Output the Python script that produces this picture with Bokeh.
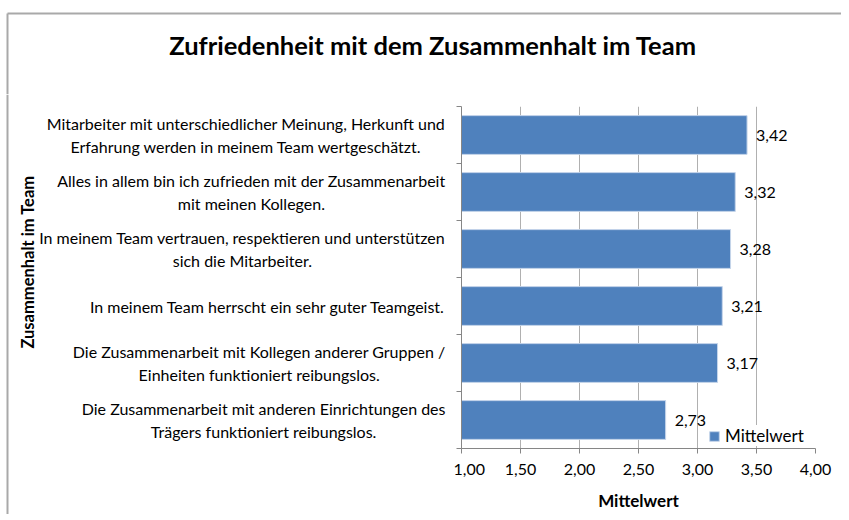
from bokeh.plotting import figure
from bokeh.layouts import column, row
from bokeh.models import FixedTicker, Legend, LegendItem, ColumnDataSource, Range1d, Plot
from bokeh.embed import file_html
from bokeh.resources import INLINE
from bokeh.core.properties import value

# ---- data ----
categories = [
    "Mitarbeiter mit unterschiedlicher Meinung, Herkunft und\nErfahrung werden in meinem Team wertgeschätzt.",
    "Alles in allem bin ich zufrieden mit der Zusammenarbeit\nmit meinen Kollegen.",
    "In meinem Team vertrauen, respektieren und unterstützen\nsich die Mitarbeiter.",
    "In meinem Team herrscht ein sehr guter Teamgeist.",
    "Die Zusammenarbeit mit Kollegen anderer Gruppen /\nEinheiten funktioniert reibungslos.",
    "Die Zusammenarbeit mit anderen Einrichtungen des\nTrägers funktioniert reibungslos.",
]
values = [3.42, 3.32, 3.28, 3.21, 3.17, 2.73]
x_ticks = [1.0, 1.5, 2.0, 2.5, 3.0, 3.5, 4.0]
title_text = "Zufriedenheit mit dem Zusammenhalt im Team"
x_title = "Mittelwert"
y_title = "Zusammenhalt im Team"
series_name = "Mittelwert"

FONT = "Lato"
TXT = "black"
AXIS = "#868686"
GRID = "#b0b0b0"
BORDER = "#a9a9a9"
n = len(categories)
ypos = [n - 1 - i + 0.5 for i in range(n)]
labels = [f"{v:.2f}".replace(".", ",") for v in values]

# ---- layout sizes (pixels, page origin at top-left) ----
W = 841
TITLE_H = 94
ROW_H = 420
LEFT_W = 453
MAIN_W = W - LEFT_W
FRAME_TOP, FRAME_BOTTOM = 12, 66
FRAME_H = ROW_H - FRAME_TOP - FRAME_BOTTOM
PX_PER_CAT = FRAME_H / n
BX, BY = 7, 13  # chart border position

# ---- title strip ----
pt = figure(width=W, height=TITLE_H, output_backend="svg", toolbar_location=None,
            x_range=Range1d(0, W), y_range=Range1d(TITLE_H, 0),
            x_axis_location=None, y_axis_location=None, min_border=0)
pt.outline_line_color = None
pt.grid.visible = False
pt.segment(x0=[BX, BX], y0=[BY, BY], x1=[W, BX], y1=[BY, TITLE_H],
           line_color=BORDER, line_width=2)
pt.text(x=[432.5], y=[44.5], text=[title_text], text_font=value(FONT), text_font_style="bold",
        text_font_size="25.5px", text_align="center", text_baseline="middle", text_color=TXT)

# ---- main chart ----
src = ColumnDataSource(dict(y=ypos, v=values, lab=labels))
p = figure(width=MAIN_W, height=ROW_H, output_backend="svg", toolbar_location=None,
           x_range=Range1d(1, 4), y_range=Range1d(0, n),
           min_border_left=8, min_border_right=MAIN_W - 8 - 354,
           min_border_top=FRAME_TOP, min_border_bottom=FRAME_BOTTOM)
p.outline_line_color = None

bars = p.hbar(y="y", right="v", left=1, height=0.68, source=src,
              fill_color="#4F81BD", line_color="#c6d5ea", line_width=1)
p.text(x="v", y="y", text="lab", source=src, x_offset=9,
       text_font=value(FONT), text_font_size="16px", text_align="left",
       text_baseline="middle", text_color=TXT)

xa = p.xaxis[0]
xa.ticker = FixedTicker(ticks=x_ticks)
xa.major_label_overrides = {t: f"{t:.2f}".replace(".", ",") for t in x_ticks}
xa.axis_line_color = AXIS
xa.major_tick_line_color = AXIS
xa.major_tick_in = 0
xa.major_tick_out = 5
xa.minor_tick_line_color = None
xa.major_label_text_font = FONT
xa.major_label_text_font_size = "16px"
xa.major_label_text_color = TXT
xa.major_label_standoff = 10
xa.axis_label = x_title
xa.axis_label_text_font = FONT
xa.axis_label_text_font_style = "bold"
xa.axis_label_text_font_size = "17px"
xa.axis_label_text_color = TXT
xa.axis_label_standoff = 12

ya = p.yaxis[0]
ya.ticker = FixedTicker(ticks=[], minor_ticks=list(range(n + 1)))
ya.major_label_standoff = 0
ya.axis_line_color = AXIS
ya.major_tick_line_color = None
ya.major_tick_in = 0
ya.major_tick_out = 0
ya.minor_tick_line_color = AXIS
ya.minor_tick_in = 0
ya.minor_tick_out = 5

p.xgrid.ticker = FixedTicker(ticks=x_ticks)
p.xgrid.grid_line_color = GRID
p.ygrid.grid_line_color = None

legend = Legend(items=[LegendItem(label=series_name, renderers=[bars])],
                location=(247, 2), glyph_width=12, glyph_height=12, label_standoff=5,
                padding=3, margin=0, spacing=0, border_line_color=None,
                background_fill_color="white", background_fill_alpha=1,
                label_text_font=FONT, label_text_font_size="17px", label_text_color=TXT,
                label_height=16)
p.add_layout(legend)

# ---- category labels + y title (same vertical scale as the chart) ----
can_unalign = "frame_align" in Plot.properties()
y_lo = -FRAME_BOTTOM / PX_PER_CAT
y_hi = n + FRAME_TOP / PX_PER_CAT
if can_unalign:
    pl = figure(width=LEFT_W, height=ROW_H, output_backend="svg", toolbar_location=None,
                x_range=Range1d(0, LEFT_W), y_range=Range1d(y_lo, y_hi),
                x_axis_location=None, y_axis_location=None, min_border=0)
    pl.frame_align = False
else:
    pl = figure(width=LEFT_W, height=ROW_H, output_backend="svg", toolbar_location=None,
                x_range=Range1d(0, LEFT_W), y_range=p.y_range,
                x_axis_location=None, y_axis_location=None,
                min_border_left=0, min_border_right=0,
                min_border_top=FRAME_TOP, min_border_bottom=FRAME_BOTTOM)
pl.outline_line_color = None
pl.grid.visible = False
pl.segment(x0=[BX], y0=[y_lo], x1=[BX], y1=[y_hi], line_color=BORDER, line_width=2)
pl.text(x=[LEFT_W - 8] * n, y=ypos, text=categories, anchor="center_right",
        text_align="center", text_baseline="middle",
        text_font=value(FONT), text_font_size="16px", text_color=TXT)
y_title_y = n * (FRAME_TOP + FRAME_H - (261.5 - TITLE_H)) / FRAME_H
pl.text(x=[27], y=[y_title_y], text=[y_title], angle=1.5707963,
        text_font=value(FONT), text_font_style="bold", text_font_size="16.5px",
        text_align="center", text_baseline="middle", text_color=TXT)

layout = column(pt, row(pl, p, spacing=0), spacing=0)

open("out.html", "w").write(file_html(layout, INLINE))
